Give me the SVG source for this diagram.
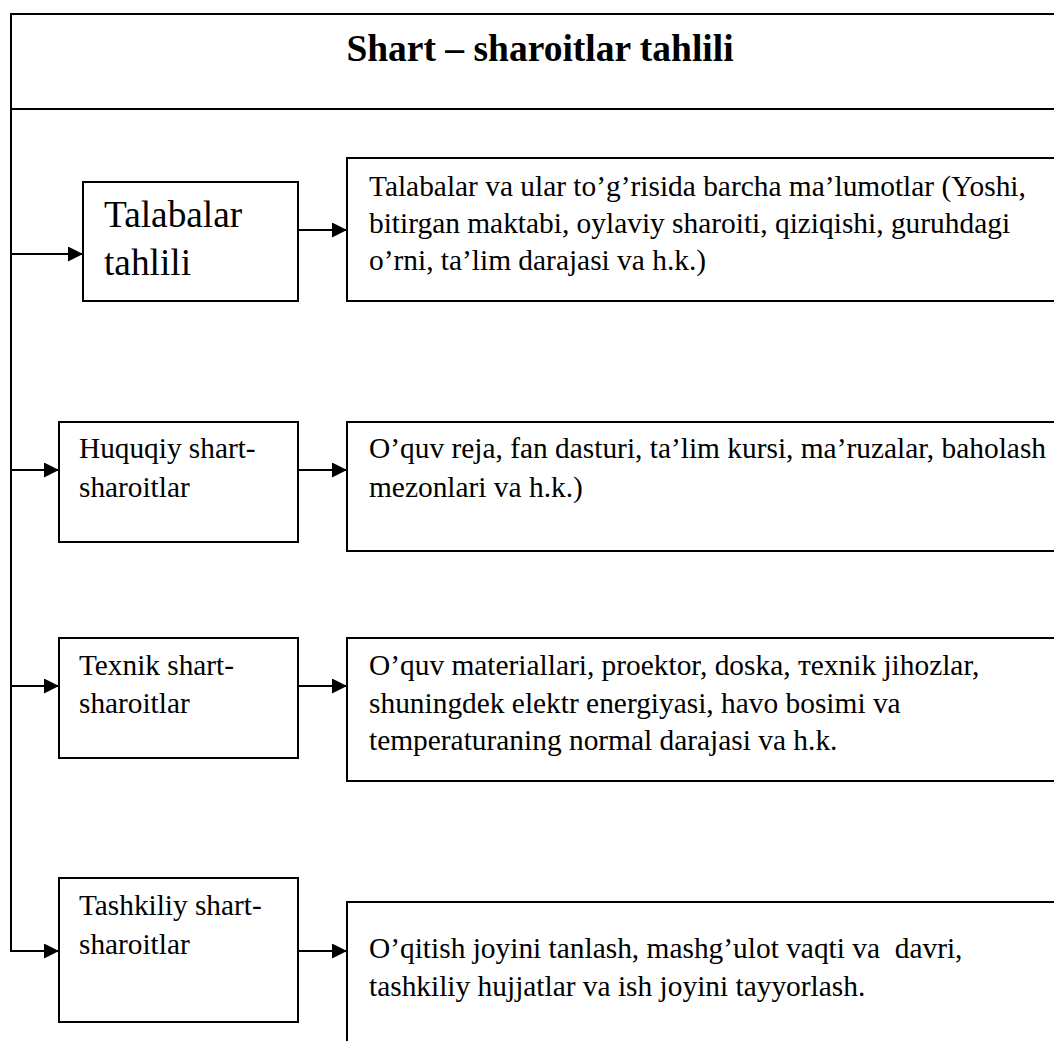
<svg xmlns="http://www.w3.org/2000/svg" width="1054" height="1041" viewBox="0 0 1054 1041">
  <style>
    .box { fill: #ffffff; stroke: #000000; stroke-width: 2; }
    .line { fill: none; stroke: #000000; stroke-width: 2; }
    .arrow { fill: none; stroke: #000000; stroke-width: 2; marker-end: url(#head); }
    text { font-family: "Liberation Serif", "Times New Roman", serif; fill: #000000; }
    .title { font-size: 37.5px; font-weight: bold; }
    .big { font-size: 37.3px; }
    .label { font-size: 29.3px; }
    .body { font-size: 29.4px; }
  </style>
  <defs>
    <marker id="head" markerUnits="userSpaceOnUse" markerWidth="15" markerHeight="15" refX="15" refY="7.5" orient="auto">
      <path d="M0,0 L15,7.5 L0,15 Z" fill="#000000"/>
    </marker>
  </defs>
  <rect width="1054" height="1041" fill="#ffffff"/>

  <!-- header band with the title -->
  <g id="header">
    <path class="line" d="M1060,14 H11 V109 H1060"/>
    <text class="title" x="540" y="61" text-anchor="middle">Shart – sharoitlar tahlili</text>
  </g>

  <!-- spine on the left and the arrows into each row -->
  <g id="connectors">
    <path class="line" d="M11,109 V951"/>
    <path class="arrow" d="M10,254 H83"/>
    <path class="arrow" d="M298,230 H347"/>
    <path class="arrow" d="M10,470 H59"/>
    <path class="arrow" d="M298,470 H347"/>
    <path class="arrow" d="M10,686 H59"/>
    <path class="arrow" d="M298,686 H347"/>
    <path class="arrow" d="M10,951 H59"/>
    <path class="arrow" d="M298,951 H347"/>
  </g>

  <!-- row 1 -->
  <g id="talabalar">
    <rect class="box" x="83" y="182" width="215" height="119"/>
    <text class="big" x="104" y="227">Talabalar</text>
    <text class="big" x="104" y="275">tahlili</text>
  </g>
  <g id="talabalar-info">
    <rect class="box" x="347" y="158" width="720" height="143"/>
    <text class="body" x="369" y="196">Talabalar va ular to’g’risida barcha ma’lumotlar (Yoshi,</text>
    <text class="body" x="369" y="233">bitirgan maktabi, oylaviy sharoiti, qiziqishi, guruhdagi</text>
    <text class="body" x="369" y="270">o’rni, ta’lim darajasi va h.k.)</text>
  </g>

  <!-- row 2 -->
  <g id="huquqiy">
    <rect class="box" x="59" y="422" width="239" height="120"/>
    <text class="label" x="79" y="458">Huquqiy shart-</text>
    <text class="label" x="79" y="497">sharoitlar</text>
  </g>
  <g id="huquqiy-info">
    <rect class="box" x="347" y="422" width="720" height="129"/>
    <text class="body" x="369" y="458">O’quv reja, fan dasturi, ta’lim kursi, ma’ruzalar, baholash</text>
    <text class="body" x="369" y="497">mezonlari va h.k.)</text>
  </g>

  <!-- row 3 -->
  <g id="texnik">
    <rect class="box" x="59" y="638" width="239" height="120"/>
    <text class="label" x="79" y="675">Texnik shart-</text>
    <text class="label" x="79" y="713">sharoitlar</text>
  </g>
  <g id="texnik-info">
    <rect class="box" x="347" y="638" width="720" height="143"/>
    <text class="body" x="369" y="675">O’quv materiallari, proektor, doska, тexnik jihozlar,</text>
    <text class="body" x="369" y="713">shuningdek elektr energiyasi, havo bosimi va</text>
    <text class="body" x="369" y="750">temperaturaning normal darajasi va h.k.</text>
  </g>

  <!-- row 4 -->
  <g id="tashkiliy">
    <rect class="box" x="59" y="878" width="239" height="144"/>
    <text class="label" x="79" y="915">Tashkiliy shart-</text>
    <text class="label" x="79" y="954">sharoitlar</text>
  </g>
  <g id="tashkiliy-info">
    <rect class="box" x="347" y="902" width="720" height="160"/>
    <text class="body" x="369" y="958" xml:space="preserve">O’qitish joyini tanlash, mashg’ulot vaqti va  davri,</text>
    <text class="body" x="369" y="996">tashkiliy hujjatlar va ish joyini tayyorlash.</text>
  </g>
</svg>
